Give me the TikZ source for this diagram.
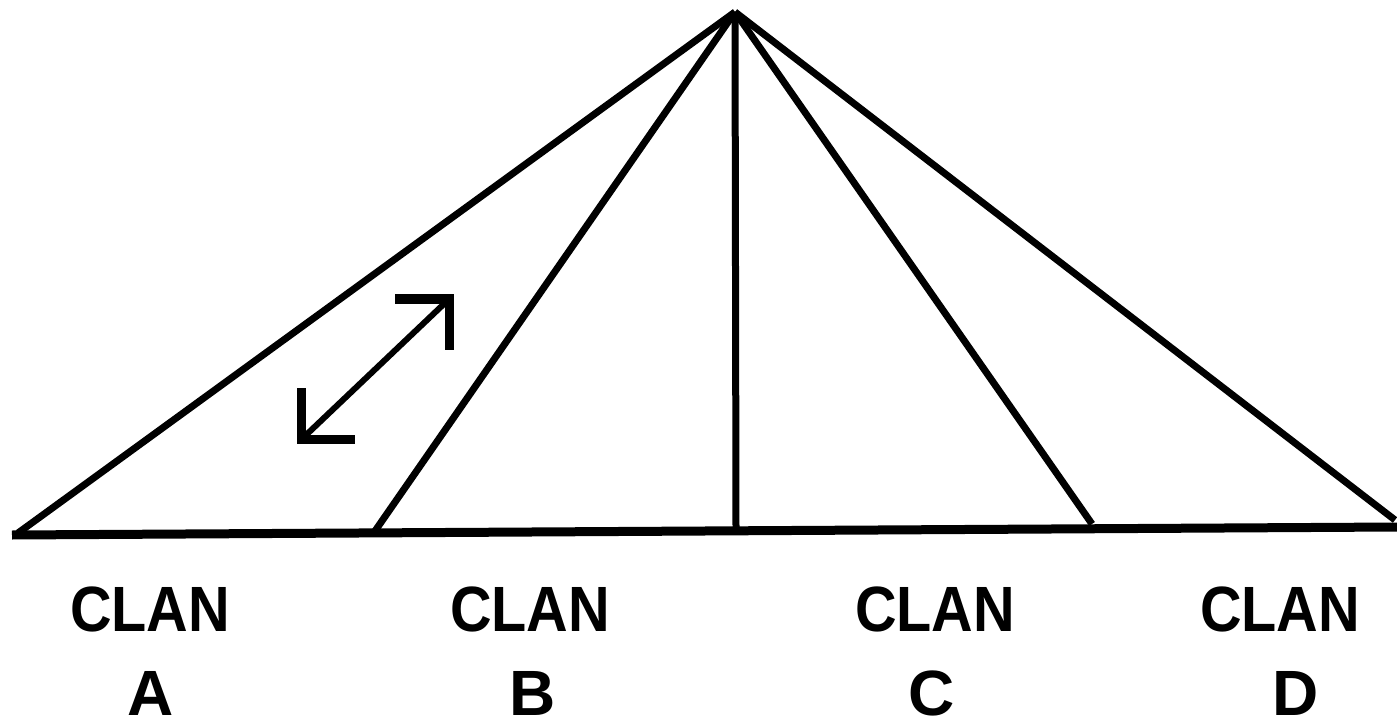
\documentclass[tikz,border=0pt]{standalone}
\usepackage{fontspec}
\usepackage{graphicx}
\setmainfont{Liberation Sans}
\tikzset{
  ln/.style={line width=7pt, line cap=butt},
  basel/.style={line width=9pt},
  head/.style={line width=9pt, line join=miter, line cap=butt},
  lbl/.style={inner sep=0pt, anchor=base, font=\fontsize{64}{64}\selectfont\bfseries}
}
\newcommand{\nar}[1]{\scalebox{0.9}[1]{#1}}
\begin{document}
\begin{tikzpicture}[x=1pt,y=-1pt]
\useasboundingbox (0,0) rectangle (1397,727);
\coordinate (apex) at (735,12);
\coordinate (bl) at (12,535);
\coordinate (br) at (1397,527);
\coordinate (pa) at (18,533);
\coordinate (pb) at (375,531);
\coordinate (pm) at (736,530);
\coordinate (pc) at (1092,524);
\coordinate (pd) at (1395,520);
\draw[basel] (bl) -- (br);
\draw[ln] (apex) -- (pa);
\draw[ln] (apex) -- (pb);
\draw[ln] (apex) -- (pm);
\draw[ln] (apex) -- (pc);
\draw[ln] (apex) -- (pd);
% double arrow
\coordinate (a1) at (305,436);
\coordinate (a2) at (446,302);
\draw[line width=6pt] (a1) -- (a2);
\draw[head] (395,299) -- (449,299) -- (449,350);
\draw[head] (301,388) -- (301,439) -- (355,439);
% labels
\node[lbl] (ca) at (150,631) {\nar{CLAN}};
\node[lbl] (cb) at (530,631) {\nar{CLAN}};
\node[lbl] (cc) at (935,631) {\nar{CLAN}};
\node[lbl] (cd) at (1280,631) {\nar{CLAN}};
\node[lbl] (la) at (151,715) {A};
\node[lbl] (lb) at (533,715) {B};
\node[lbl] (lc) at (932,715) {C};
\node[lbl] (ld) at (1296,715) {D};
\end{tikzpicture}
\end{document}
